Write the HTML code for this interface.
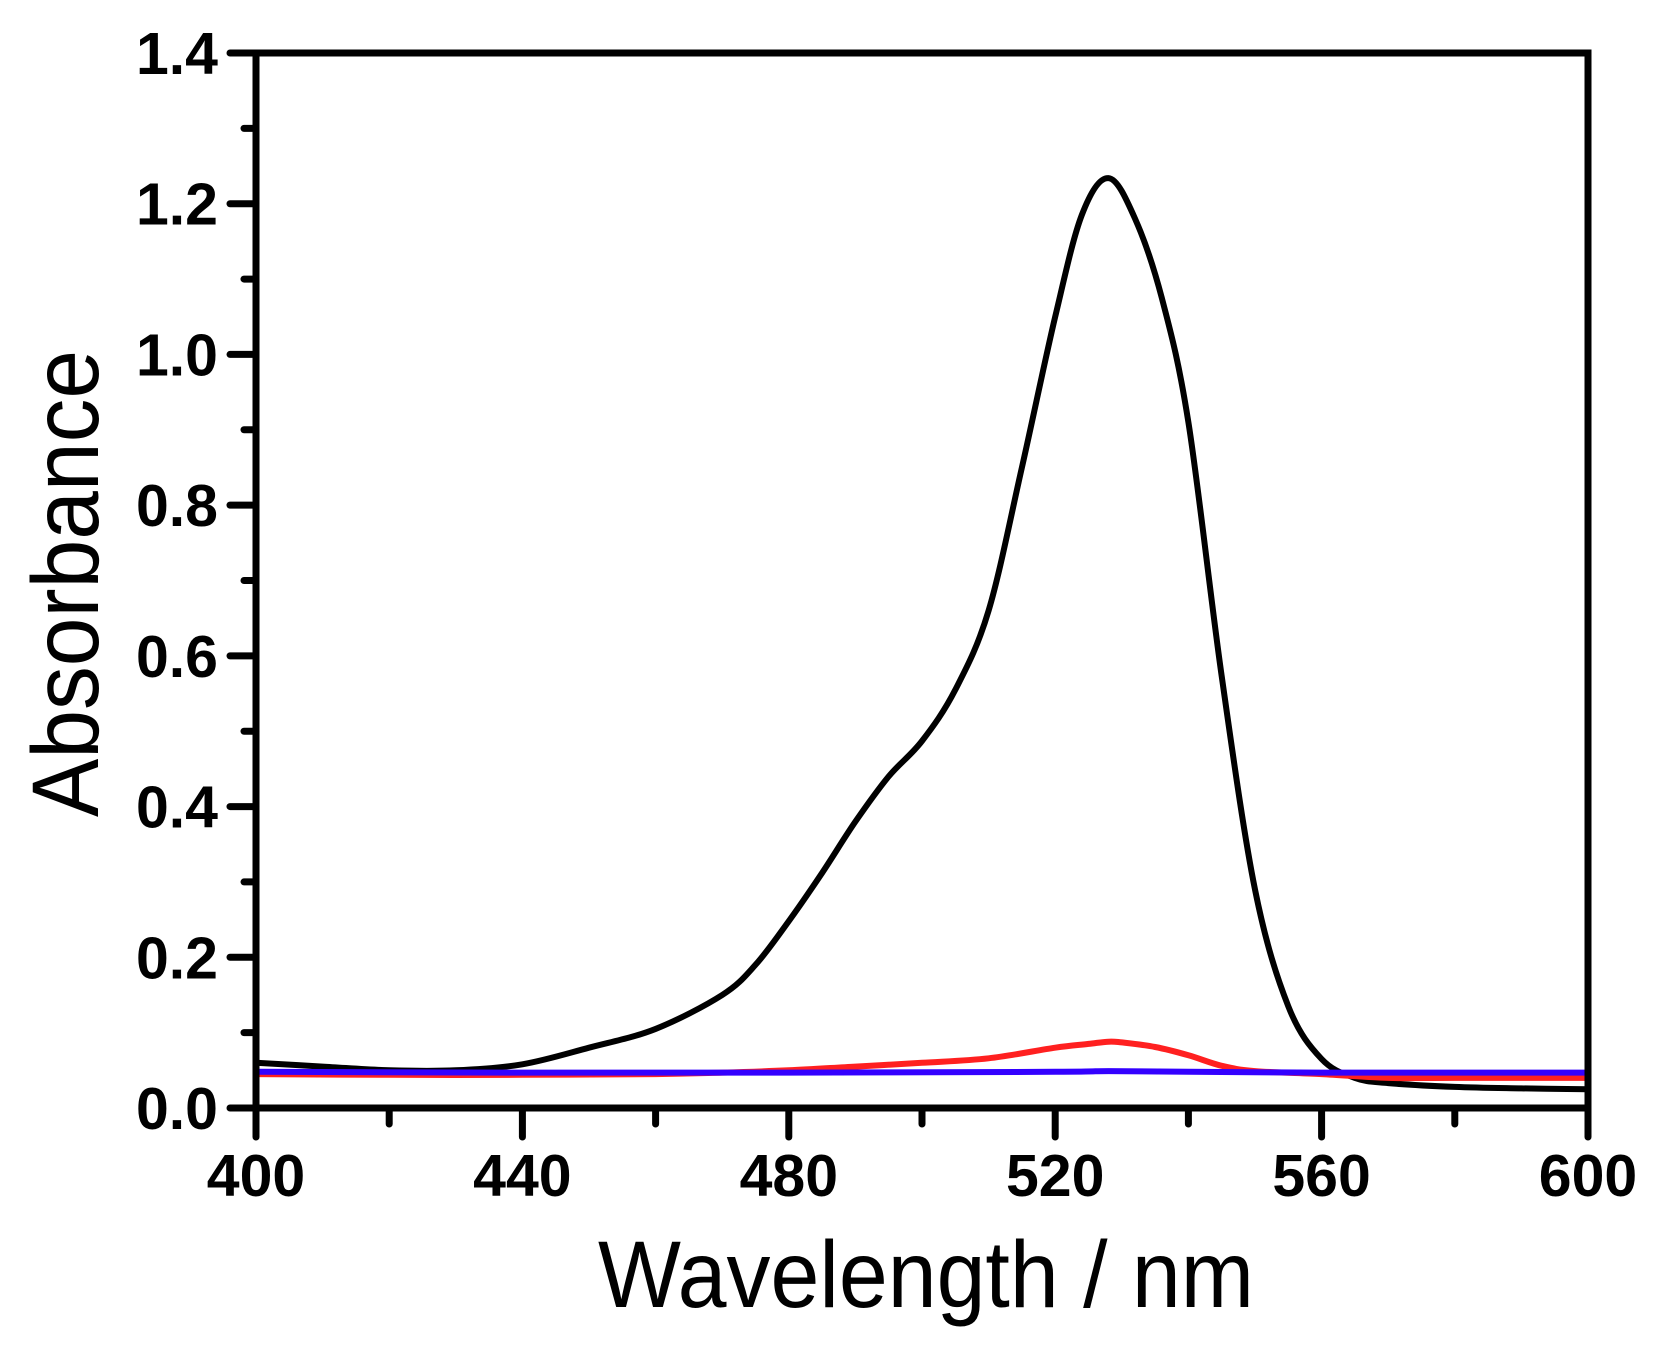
<!DOCTYPE html>
<html><head><meta charset="utf-8"><style>html,body{margin:0;padding:0;background:#fff}svg{display:block}</style></head>
<body>
<svg id="chart" width="1659" height="1358" viewBox="0 0 1659 1358" xmlns="http://www.w3.org/2000/svg" font-family="Liberation Sans, Arial, sans-serif"></svg>
<script>
const xTicks = [400, 440, 480, 520, 560, 600];
const yTicks = [0.0, 0.2, 0.4, 0.6, 0.8, 1.0, 1.2, 1.4];
const yTickLabels = ["0.0", "0.2", "0.4", "0.6", "0.8", "1.0", "1.2", "1.4"];
const blackX = [400,410,420,430,440,450,460,470,475,480,485,490,495,500,505,510,515,520,524,528,532,536,540,545,550,555,560,565,570,580,590,600];
const blackY = [0.060,0.055,0.050,0.050,0.058,0.080,0.105,0.150,0.190,0.248,0.312,0.380,0.440,0.487,0.555,0.660,0.850,1.050,1.185,1.234,1.180,1.075,0.910,0.573,0.290,0.135,0.065,0.040,0.033,0.028,0.026,0.025];
const redX = [400,420,440,460,470,480,490,500,510,520,525,528,530,535,540,545,550,560,570,580,600];
const redY = [0.045,0.044,0.044,0.045,0.047,0.050,0.055,0.060,0.066,0.080,0.085,0.088,0.087,0.081,0.070,0.056,0.049,0.045,0.040,0.040,0.040];
const blueX = [400,440,480,520,528,540,560,580,600];
const blueY = [0.048,0.047,0.047,0.048,0.049,0.048,0.047,0.047,0.047];

const L=256,R=1588,T=53,B=1108;
const sx = v => L + (v-400)/(600-400)*(R-L);
const sy = v => B - v/1.4*(B-T);
const svg = document.getElementById('chart');
const NS='http://www.w3.org/2000/svg';
function mk(tag, attrs){const e=document.createElementNS(NS,tag);for(const k in attrs)e.setAttribute(k,attrs[k]);svg.appendChild(e);return e;}

function series(xs, ys, color, name){
  const P = xs.map((x,i)=>[sx(x), sy(ys[i])]);
  let d = 'M'+P[0][0].toFixed(1)+' '+P[0][1].toFixed(1);
  for(let i=0;i<P.length-1;i++){
    const p0=P[Math.max(0,i-1)], p1=P[i], p2=P[i+1], p3=P[Math.min(P.length-1,i+2)];
    const c1=[p1[0]+(p2[0]-p0[0])/6, p1[1]+(p2[1]-p0[1])/6];
    const c2=[p2[0]-(p3[0]-p1[0])/6, p2[1]-(p3[1]-p1[1])/6];
    d+=' C'+c1[0].toFixed(1)+' '+c1[1].toFixed(1)+' '+c2[0].toFixed(1)+' '+c2[1].toFixed(1)+' '+p2[0].toFixed(1)+' '+p2[1].toFixed(1);
  }
  const p = mk('path',{d:d,fill:'none',stroke:color,'stroke-width':6,'stroke-linejoin':'round'});
  
  
}
series(blackX, blackY, '#000', 'black-spectrum-line');
series(redX, redY, '#ff2020', 'red-spectrum-line');
series(blueX, blueY, '#3300ff', 'blue-spectrum-line');

const fr = mk('rect',{x:L,y:T,width:R-L,height:B-T,fill:'none',stroke:'#000','stroke-width':7});



yTicks.forEach((v,i)=>{
  const y=sy(v);
  const t=mk('line',{x1:L-26,x2:L,y1:y,y2:y,stroke:'#000','stroke-width':7,'stroke-linecap':'round'});
  
  
  const lb=mk('text',{x:218,y:y+21,'text-anchor':'end','font-size':59,'font-weight':'bold'});
  lb.textContent=yTickLabels[i];
  
  
  if(i<yTicks.length-1){
    const ym=sy(v+0.1);
    const m=mk('line',{x1:L-12,x2:L,y1:ym,y2:ym,stroke:'#000','stroke-width':7,'stroke-linecap':'round'});
    
    
  }
});
xTicks.forEach((v,i)=>{
  const x=sx(v);
  const t=mk('line',{x1:x,x2:x,y1:B,y2:B+29,stroke:'#000','stroke-width':7,'stroke-linecap':'round'});
  
  
  const lb=mk('text',{x:x,y:1196,'text-anchor':'middle','font-size':59,'font-weight':'bold'});
  lb.textContent=String(v);
  
  
  if(i<xTicks.length-1){
    const xm=sx(v+20);
    const m=mk('line',{x1:xm,x2:xm,y1:B,y2:B+16,stroke:'#000','stroke-width':7,'stroke-linecap':'round'});
    
    
  }
});
const xt=mk('text',{x:598,y:1307,'font-size':95,textLength:656,lengthAdjust:'spacingAndGlyphs'});
xt.textContent='Wavelength / nm';


const yt=mk('text',{x:0,y:0,'font-size':95,textLength:467,lengthAdjust:'spacingAndGlyphs',transform:'translate(98,817) rotate(-90)'});
yt.textContent='Absorbance';


</script>
</body></html>
